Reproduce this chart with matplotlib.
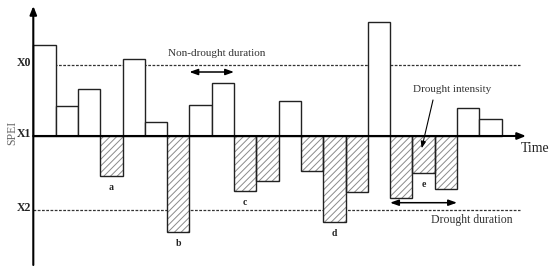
import matplotlib
matplotlib.use("Agg")
import matplotlib.pyplot as plt
import numpy as np

# SPEI values (in units where X0 = 1, X1 = 0)
spei = [1.28, 0.42, 0.66, -0.56, 1.09, 0.20, -1.35, 0.44, 0.74, -0.77, -0.64,
        0.49, -0.49, -1.21, -0.79, 1.60, -0.87, -0.52, -0.74, 0.40, 0.24]
thresholds = {"X0": 1.0, "X1": 0.0, "X2": -1.04}
event_labels = ["a", "b", "c", "d", "e"]
event_bars = [3, 6, 9, 13, 17]

plt.rcParams['font.family'] = ['Liberation Serif', 'DejaVu Serif']
plt.rcParams['hatch.linewidth'] = 0.7

fig = plt.figure(figsize=(5.5, 2.72), dpi=100)
ax = fig.add_axes([0, 0, 1, 1])
px = 22.3  # pixel per bar
x0 = 33.3
ax.set_xlim(-x0 / px, (550 - x0) / px)
ax.set_ylim(-136 / 71, 136 / 71)
ax.axis('off')

x = np.arange(len(spei))
vals = np.array(spei)
pos = vals > 0
# positive bars: white with black edges
ax.bar(x[pos], vals[pos], width=1, align='edge', facecolor='white',
       edgecolor='#222222', linewidth=1.0, zorder=3)
# negative bars: hatched
ax.bar(x[~pos], vals[~pos], width=1, align='edge', facecolor='white',
       edgecolor='#8a8a8a', hatch='/////', linewidth=0, zorder=3)
ax.bar(x[~pos], vals[~pos], width=1, align='edge', facecolor='none',
       edgecolor='#222222', linewidth=1.0, zorder=4)

# threshold dashed lines
xr = (520 - x0) / px
for k in ["X0", "X2"]:
    ax.plot([0, xr], [thresholds[k]] * 2, color='#333333', lw=0.9,
            ls=(0, (2.2, 1.2)), zorder=2)
for k, v in thresholds.items():
    ax.text(-0.1, v + 0.03, k, ha='right', va='center', fontsize=8.5,
            fontweight='bold', color='#222222')

# axes with arrows
ax.annotate('', xy=((526 - x0) / px, 0), xytext=(0, 0),
            arrowprops=dict(arrowstyle='-|>,head_length=0.5,head_width=0.2',
                            color='black', lw=1.5, shrinkA=0, shrinkB=0), zorder=6)
ax.annotate('', xy=(0, 136 / 71 - 6 / 71), xytext=(0, -(265 - 136) / 71),
            arrowprops=dict(arrowstyle='-|>,head_length=0.5,head_width=0.2',
                            color='black', lw=1.5, shrinkA=0, shrinkB=0), zorder=6)

ax.text(-21.5 / px, 0.04, 'SPEI', rotation=90, ha='center', va='center',
        fontsize=8.5, color='#666666')
ax.text((535 - x0) / px, -(149 - 136) / 71, 'Time', ha='center', va='center',
        fontsize=10, color='#222222')

# event labels
for lab, b in zip(event_labels, event_bars):
    ax.text(b + 0.5, spei[b] - 0.1, lab, ha='center', va='top',
            fontsize=7, fontweight='bold', color='#222222')

# annotations
ax.text((217 - x0) / px, (136 - 54) / 71, 'Non-drought duration', ha='center',
        va='center', fontsize=8, color='#333333')
ax.annotate('', xy=(7, (136 - 72) / 71), xytext=(9, (136 - 72) / 71),
            arrowprops=dict(arrowstyle='<|-|>,head_length=0.5,head_width=0.18',
                            color='black', lw=1.1, shrinkA=0, shrinkB=0))
ax.text((452 - x0) / px, (136 - 90) / 71, 'Drought intensity', ha='center',
        va='center', fontsize=8, color='#333333')
ax.annotate('', xy=((421.7 - x0) / px, -(148.3 - 136) / 71),
            xytext=((433 - x0) / px, (136 - 100) / 71),
            arrowprops=dict(arrowstyle='-|>,head_length=0.4,head_width=0.15',
                            color='black', lw=0.8, shrinkA=0, shrinkB=0))
ax.annotate('', xy=(16, -(202.7 - 136) / 71), xytext=(19, -(202.7 - 136) / 71),
            arrowprops=dict(arrowstyle='<|-|>,head_length=0.5,head_width=0.18',
                            color='black', lw=1.1, shrinkA=0, shrinkB=0))
ax.text((472 - x0) / px, -(219.5 - 136) / 71, 'Drought duration', ha='center',
        va='center', fontsize=8.5, color='#333333')

fig.savefig('out.png', dpi=100, facecolor='white')
